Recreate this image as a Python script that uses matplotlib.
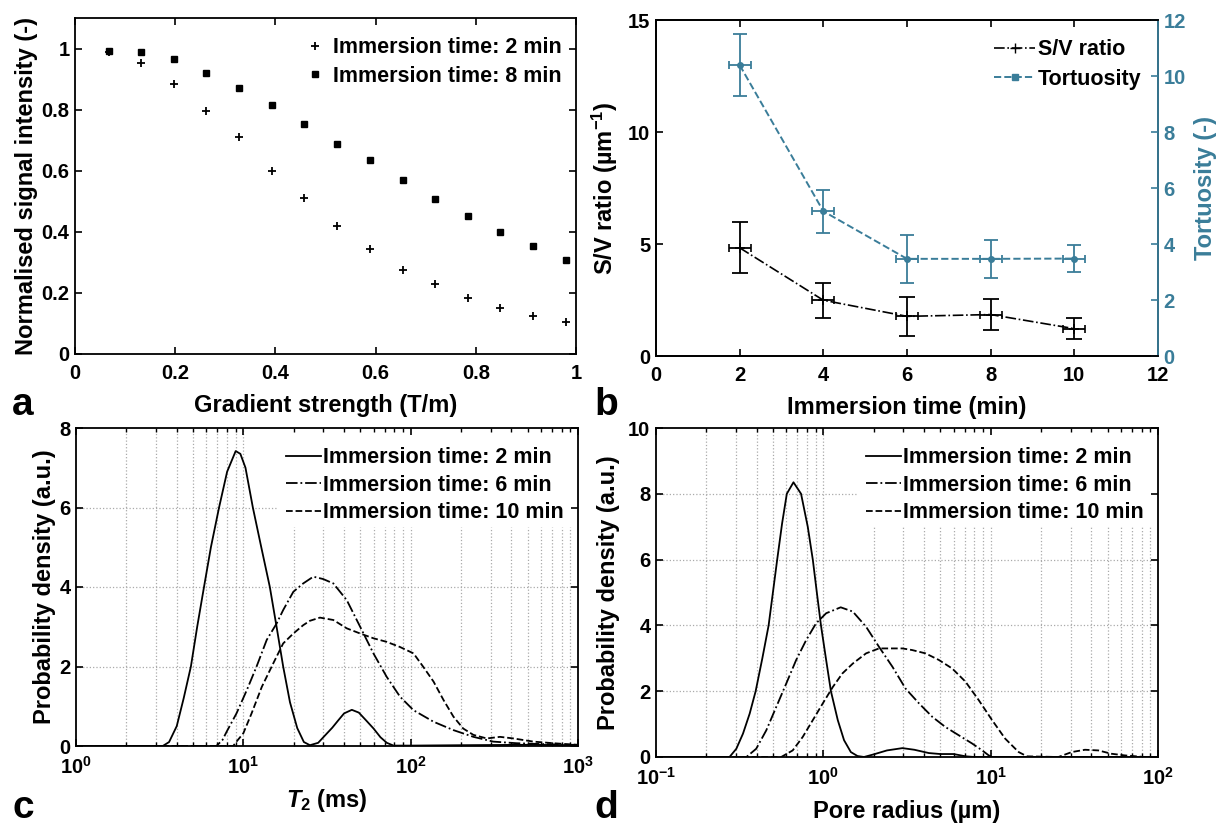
import matplotlib
matplotlib.use("Agg")
import matplotlib.pyplot as plt
from matplotlib.ticker import NullFormatter, LogLocator

plt.rcParams.update({
    "font.family": ["Liberation Sans", "DejaVu Sans"],
    "font.weight": "bold",
    "axes.labelweight": "bold",
    "mathtext.fontset": "custom",
    "mathtext.rm": "Liberation Sans:bold",
    "mathtext.it": "Liberation Sans:bold:italic",
    "mathtext.bf": "Liberation Sans:bold",
    "axes.linewidth": 1.3,
})

TEAL = "#3a7d99"
GRID_COLOR = "#aaaaaa"
TICK_FS = 14.5
LABEL_FS = 17
LEG_FS = 15.5

# ---- panel a: signal attenuation ----
grad = [0.067, 0.132, 0.197, 0.262, 0.327, 0.393, 0.458, 0.523, 0.588,
        0.654, 0.719, 0.784, 0.849, 0.914, 0.98]
sig_2min = [0.989, 0.953, 0.885, 0.797, 0.709, 0.600, 0.510, 0.419, 0.344,
            0.276, 0.229, 0.184, 0.151, 0.125, 0.105]
sig_8min = [0.992, 0.990, 0.965, 0.920, 0.872, 0.814, 0.752, 0.689, 0.634,
            0.570, 0.507, 0.451, 0.399, 0.354, 0.309]

# ---- panel b: S/V ratio and tortuosity ----
imm_time = [2, 4, 6, 8, 10]
time_err = [0.26, 0.26, 0.26, 0.26, 0.26]
sv_ratio = [4.83, 2.49, 1.77, 1.85, 1.22]
sv_err = [1.13, 0.78, 0.86, 0.70, 0.48]
tortuosity = [10.39, 5.17, 3.47, 3.47, 3.48]
tort_err = [1.11, 0.77, 0.85, 0.69, 0.47]

# ---- panel c: T2 distributions ----
t2_2min = [1.0, 3.3, 3.6, 4.0, 4.4, 4.86, 5.3, 5.82, 6.4, 7.16, 8.0, 9.0,
           9.6, 10.3, 11.4, 12.8, 14.4, 15.8, 17.3, 19.0, 21.0, 23.0, 25.0,
           28.0, 31.0, 34.0, 37.0, 40.0, 44.5, 49.0, 54.0, 60.0, 66.0, 72.0,
           79.0, 100, 200, 500, 1000]
pd_t2_2min = [0, 0, 0.1, 0.5, 1.2, 2.0, 3.0, 4.0, 5.0, 6.0, 6.9, 7.42,
              7.35, 7.0, 6.0, 5.0, 4.0, 3.0, 2.0, 1.1, 0.45, 0.1, 0.02,
              0.08, 0.28, 0.46, 0.65, 0.82, 0.91, 0.84, 0.65, 0.44, 0.22, 0.08,
              0.01, 0.01, 0.02, 0.03, 0.02]
t2_6min = [1.0, 6.9, 7.5, 7.95, 9.1, 10.5, 12.0, 13.8, 15.8, 17.3, 19.9,
           22.8, 26.2, 30.0, 34.5, 41.5, 49.9, 59.9, 71.9, 86.4, 104, 137,
           180, 237, 312, 430, 594, 857, 1000]
pd_t2_6min = [0, 0, 0.15, 0.36, 0.82, 1.41, 2.0, 2.67, 3.08, 3.42, 3.88,
              4.09, 4.26, 4.2, 4.09, 3.67, 3.0, 2.33, 1.74, 1.24, 0.90, 0.61,
              0.40, 0.23, 0.11, 0.07, 0.05, 0.03, 0.03]
t2_10min = [1.0, 8.7, 9.1, 10.0, 11.2, 12.9, 15.1, 17.3, 19.9, 22.8, 25.0,
            28.7, 34.5, 41.5, 49.9, 59.9, 71.9, 86.4, 104, 119, 137, 157,
            180, 206, 237, 285, 342, 411, 542, 713, 984, 1000]
pd_t2_10min = [0, 0, 0.11, 0.32, 0.82, 1.49, 2.08, 2.58, 2.83, 3.04, 3.15,
               3.23, 3.17, 2.96, 2.83, 2.71, 2.62, 2.49, 2.33, 1.99, 1.62, 1.16,
               0.74, 0.44, 0.28, 0.19, 0.23, 0.19, 0.11, 0.07, 0.03, 0.03]

# ---- panel d: pore radius distributions ----
r_2min = [0.1, 0.275, 0.302, 0.331, 0.363, 0.394, 0.432, 0.471, 0.530, 0.567,
          0.605, 0.663, 0.736, 0.807, 0.865, 0.916, 0.968, 1.04, 1.11, 1.22,
          1.33, 1.46, 1.60, 1.75, 2.0, 2.4, 2.97, 3.5, 4.27, 5.0, 6.0, 7.1,
          8.0, 100]
pd_r_2min = [0, 0, 0.25, 0.71, 1.32, 2.0, 3.0, 4.0, 6.0, 7.1,
             8.0, 8.35, 8.0, 7.0, 6.0, 4.97, 4.0, 2.94, 2.0, 1.12,
             0.51, 0.15, 0.03, 0.0, 0.08, 0.2, 0.27, 0.22, 0.12, 0.09, 0.09, 0.02,
             0.0, 0.0]
r_6min = [0.1, 0.347, 0.397, 0.456, 0.523, 0.600, 0.687, 0.789, 0.904, 1.04,
          1.27, 1.50, 1.80, 2.15, 2.59, 3.10, 3.73, 4.48, 5.37, 6.45, 7.75,
          8.9, 9.73, 10.2, 100]
pd_r_6min = [0, 0, 0.25, 0.81, 1.52, 2.23, 2.94, 3.55, 4.06, 4.37,
             4.55, 4.42, 3.96, 3.35, 2.74, 2.08, 1.63, 1.22, 0.91, 0.66, 0.41,
             0.20, 0.05, 0.0, 0.0]
r_10min = [0.1, 0.56, 0.656, 0.753, 0.865, 0.99, 1.14, 1.30, 1.50, 1.80, 2.15,
           2.59, 2.97, 3.40, 4.08, 4.90, 5.89, 7.07, 8.48, 10.2, 12.2, 14.7,
           16.5, 25.4, 30.5, 36.6, 44.0, 52.5, 63.0, 83.0, 100]
pd_r_10min = [0, 0, 0.2, 0.61, 1.12, 1.62, 2.13, 2.54, 2.84, 3.15, 3.30,
              3.30, 3.30, 3.25, 3.15, 2.95, 2.69, 2.29, 1.73, 1.12, 0.56, 0.15,
              0.02, 0.0, 0.15, 0.22, 0.2, 0.1, 0.05, 0.0, 0.0]

legend_labels = ["Immersion time: 2 min", "Immersion time: 6 min",
                 "Immersion time: 10 min"]


def style_ticks(ax, right=True):
    ax.tick_params(which="major", direction="in", top=True, right=right,
                   length=5, width=1.2, labelsize=TICK_FS, pad=4)
    ax.tick_params(which="minor", direction="in", top=True, right=right,
                   length=3, width=1.0)
    ax.tick_params(axis="x", which="major", pad=7)


def px_rect(left, top, right, bottom, W=1218, H=824):
    return [left / W, 1 - bottom / H, (right - left) / W, (bottom - top) / H]


fig = plt.figure(figsize=(12.18, 8.24), dpi=100)

# panel a
ax_a = fig.add_axes(px_rect(75, 18, 576, 354))
ax_a.plot(grad, sig_2min, "+", color="k", ms=6, mew=1.3,
          label="Immersion time: 2 min")
ax_a.plot(grad, sig_8min, "s", color="k", ms=5,
          label="Immersion time: 8 min")
ax_a.set_xlim(0, 1)
ax_a.set_ylim(0, 1.1)
ax_a.set_xticks([0, 0.2, 0.4, 0.6, 0.8, 1], ["0", "0.2", "0.4", "0.6", "0.8", "1"])
ax_a.set_yticks([0, 0.2, 0.4, 0.6, 0.8, 1], ["0", "0.2", "0.4", "0.6", "0.8", "1"])
style_ticks(ax_a)
ax_a.set_xlabel("Gradient strength (T/m)", fontsize=LABEL_FS)
ax_a.set_ylabel("Normalised signal intensity (-)", fontsize=LABEL_FS)
ax_a.xaxis.set_label_coords(0.5, -0.12)
ax_a.yaxis.set_label_coords(-0.074, 0.5)
ax_a.legend(loc="upper right", frameon=False, fontsize=LEG_FS,
            handletextpad=0.25, labelspacing=0.35, borderaxespad=0.5,
            handlelength=1.2, bbox_to_anchor=(1.01, 1.0))

# panel b
ax_b = fig.add_axes(px_rect(656, 20, 1158, 356))
ax_b2 = ax_b.twinx()
ax_b.errorbar(imm_time, sv_ratio, yerr=sv_err, fmt="-.", color="k", lw=1.2,
              elinewidth=1.3, capsize=5.6, capthick=1.3, zorder=3)
ax_b.errorbar(imm_time, sv_ratio, xerr=time_err, fmt="+", color="k", ms=7,
              mew=1.2, elinewidth=1.3, capsize=2.9, capthick=1.3, zorder=3)
ax_b2.errorbar(imm_time, tortuosity, yerr=tort_err, fmt="--", color=TEAL,
               lw=1.4, elinewidth=1.3, capsize=5.2, capthick=1.3)
ax_b2.errorbar(imm_time, tortuosity, xerr=time_err, fmt="o", color=TEAL,
               ms=4, elinewidth=1.3, capsize=2.9, capthick=1.3)
ax_b.set_xlim(0, 12)
ax_b.set_ylim(0, 15)
ax_b2.set_ylim(0, 12)
ax_b.set_xticks([0, 2, 4, 6, 8, 10, 12])
ax_b.set_yticks([0, 5, 10, 15])
ax_b2.set_yticks([0, 2, 4, 6, 8, 10, 12])
style_ticks(ax_b, right=False)
ax_b2.tick_params(direction="in", length=5, width=1.2, labelsize=TICK_FS,
                  colors=TEAL, pad=4)
ax_b2.spines["right"].set_color(TEAL)
ax_b2.spines["right"].set_linewidth(1.3)
ax_b.set_xlabel("Immersion time (min)", fontsize=LABEL_FS)
ax_b.set_ylabel("S/V ratio (µm$^{-1}$)", fontsize=LABEL_FS)
ax_b2.set_ylabel("Tortuosity (-)", fontsize=LABEL_FS, color=TEAL)
ax_b.xaxis.set_label_coords(0.5, -0.118)
ax_b.yaxis.set_label_coords(-0.072, 0.5)
ax_b2.yaxis.set_label_coords(1.072, 0.5)
sv_handle = plt.Line2D([], [], ls="-.", marker="+", color="k", lw=1.2, ms=7)
tort_handle = plt.Line2D([], [], ls="--", marker="s", color=TEAL, lw=1.4, ms=4)
ax_b2.legend([sv_handle, tort_handle], ["S/V ratio", "Tortuosity"],
             loc="upper right", frameon=False, fontsize=LEG_FS,
             handletextpad=0.1, labelspacing=0.4, handlelength=1.9,
             borderaxespad=0.5, bbox_to_anchor=(1.005, 1.0))


# panels c and d
def dotted_grid(ax, xgrid, ygrid, leg_left, leg_bottom):
    """Dotted grid like MATLAB's, left blank behind the legend.

    leg_left is in data units (x), leg_bottom an axes fraction (y).
    """
    x0, x1 = ax.get_xlim()
    y0, y1 = ax.get_ylim()
    y_cut = y0 + leg_bottom * (y1 - y0)
    kw = dict(ls=":", color=GRID_COLOR, lw=0.9, zorder=0.6)
    for gx in xgrid:
        if x0 < gx < x1:
            top = leg_bottom if gx >= leg_left else 1.0
            ax.axvline(gx, 0, top, **kw)
    for gy in ygrid:
        if y0 < gy < y1:
            right = leg_left if gy >= y_cut else x1
            ax.plot([x0, right], [gy, gy], **kw)


def dist_panel(ax, xs, ys, xlim, ylim, yticks, xticklabels, leg_box):
    styles = ["-", "-.", "--"]
    for x, y, ls, lab in zip(xs, ys, styles, legend_labels):
        ax.plot(x, y, ls=ls, color="k", lw=1.3, label=lab)
    ax.set_xscale("log")
    ax.set_xlim(*xlim)
    ax.set_ylim(*ylim)
    ax.set_yticks(yticks)
    decades = [xlim[0] * 10 ** i for i in range(len(xticklabels))]
    ax.set_xticks(decades, xticklabels)
    ax.xaxis.set_minor_locator(LogLocator(base=10, subs=range(2, 10)))
    ax.xaxis.set_minor_formatter(NullFormatter())
    style_ticks(ax)
    xgrid = [d * m for d in decades for m in range(1, 10)]
    dotted_grid(ax, xgrid, yticks, *leg_box)
    ax.set_xlim(*xlim)
    ax.set_ylim(*ylim)
    ax.legend(loc="upper right", fontsize=LEG_FS, handletextpad=0.1,
              labelspacing=0.3, handlelength=1.6, borderaxespad=0.0,
              borderpad=0.9, frameon=False, bbox_to_anchor=(1.01, 1.0))


ax_c = fig.add_axes(px_rect(76, 428, 578, 746))
dist_panel(ax_c, [t2_2min, t2_6min, t2_10min],
           [pd_t2_2min, pd_t2_6min, pd_t2_10min], (1, 1000), (0, 8),
           [0, 2, 4, 6, 8],
           [r"$\mathbf{10^{0}}$", r"$\mathbf{10^{1}}$", r"$\mathbf{10^{2}}$",
            r"$\mathbf{10^{3}}$"], (16.0, 0.689))
ax_c.set_xlabel(r"$T_{\mathit{2}}$ (ms)", fontsize=LABEL_FS)
ax_c.set_ylabel("Probability density (a.u.)", fontsize=LABEL_FS)
ax_c.xaxis.set_label_coords(0.5, -0.13)
ax_c.yaxis.set_label_coords(-0.04, 0.5)

ax_d = fig.add_axes(px_rect(656, 428, 1158, 757))
dist_panel(ax_d, [r_2min, r_6min, r_10min],
           [pd_r_2min, pd_r_6min, pd_r_10min], (0.1, 100), (0, 10),
           [0, 2, 4, 6, 8, 10],
           [r"$\mathbf{10^{-1}}$", r"$\mathbf{10^{0}}$", r"$\mathbf{10^{1}}$",
            r"$\mathbf{10^{2}}$"], (1.6, 0.699))
ax_d.set_xlabel("Pore radius (µm)", fontsize=LABEL_FS)
ax_d.set_ylabel("Probability density (a.u.)", fontsize=LABEL_FS)
ax_d.xaxis.set_label_coords(0.5, -0.132)
ax_d.yaxis.set_label_coords(-0.072, 0.5)

# panel letters
for letter, (x, y) in zip("abcd", [(12, 415), (594, 415), (12, 818), (594, 818)]):
    fig.text(x / 1218, 1 - y / 824, letter, fontsize=28, fontweight="bold",
             va="baseline", ha="left")

fig.savefig("out.png", dpi=100)
